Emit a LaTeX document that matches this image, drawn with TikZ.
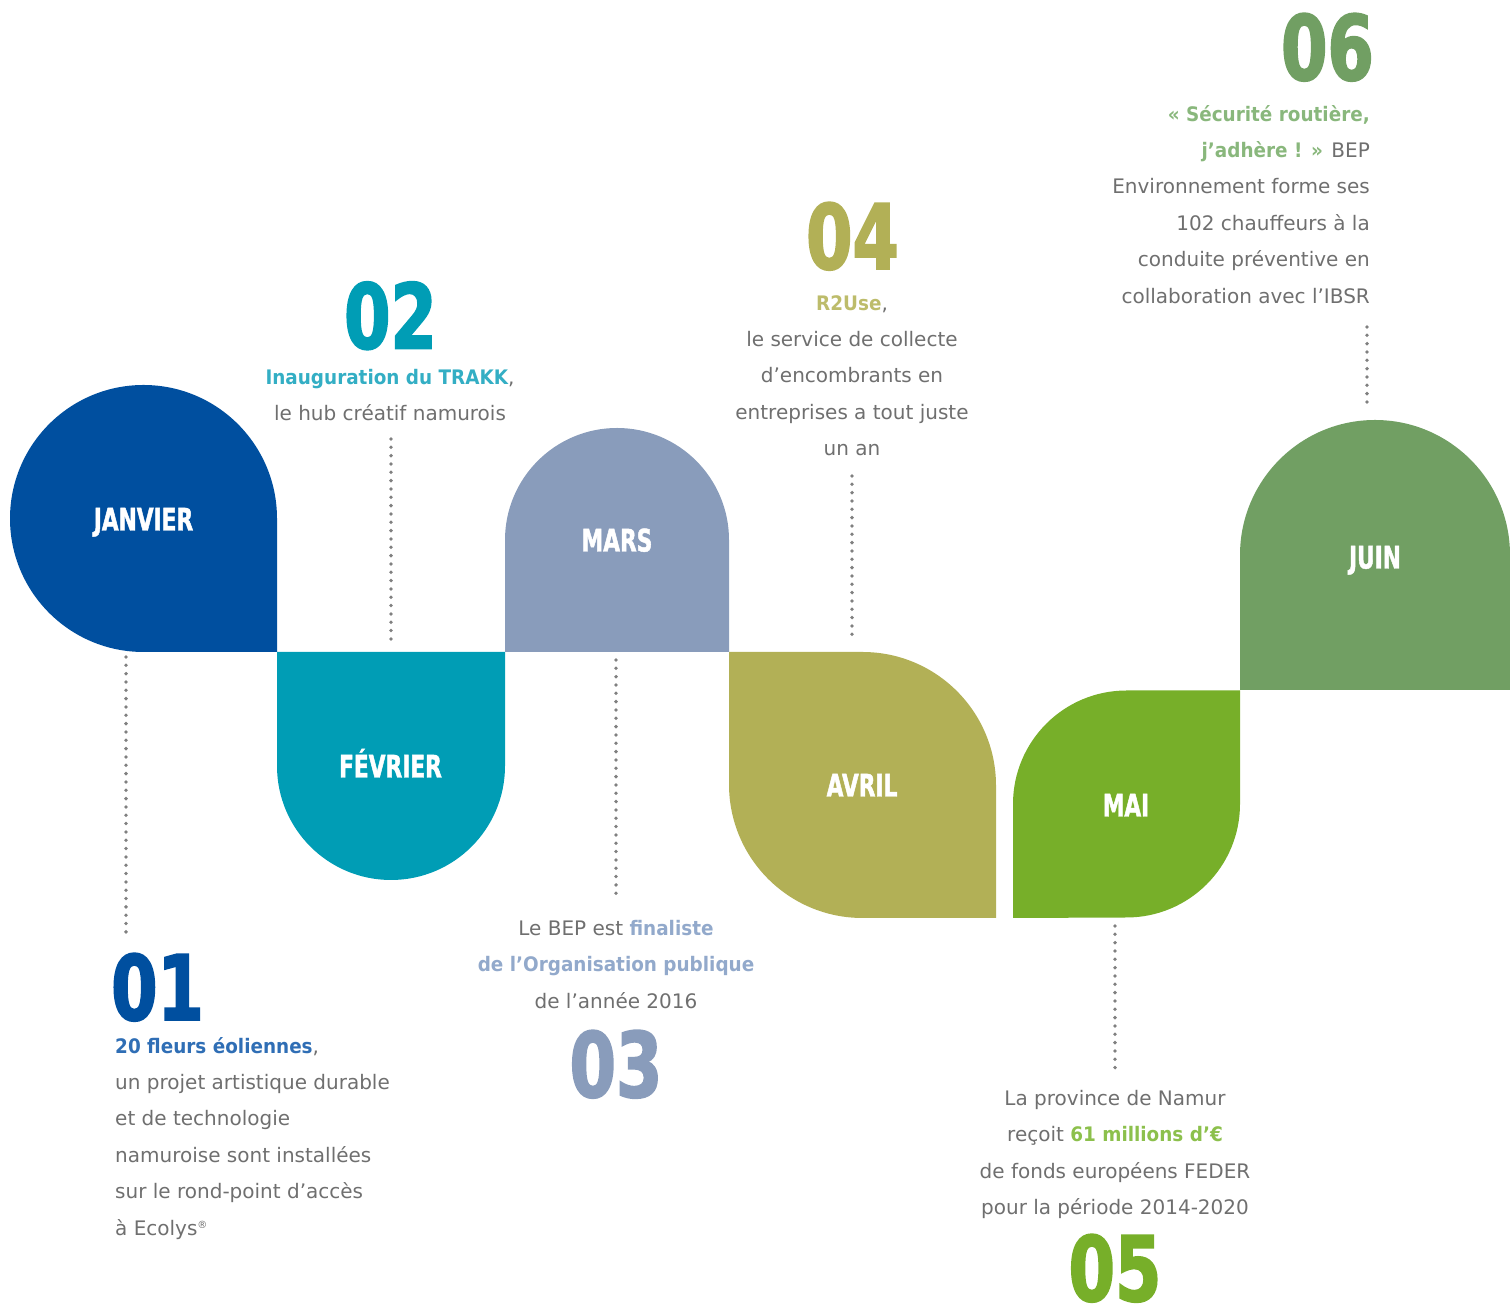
\documentclass[tikz,border=0pt]{standalone}
\usepackage{fontspec}
\setmainfont{DejaVu Sans}[BoldFeatures={FakeStretch=0.92}]
\newfontfamily\numfont{DejaVu Sans}[FakeStretch=0.74,BoldFeatures={FakeBold=2}]
\newfontfamily\monthfont{DejaVu Sans}[FakeStretch=0.7,BoldFeatures={FakeBold=1.5}]
\definecolor{cjan}{HTML}{004F9F}
\definecolor{cfev}{HTML}{009DB5}
\definecolor{cmar}{HTML}{899CBB}
\definecolor{cavr}{HTML}{B2B056}
\definecolor{cmai}{HTML}{77AF29}
\definecolor{cjuin}{HTML}{719F63}
\definecolor{txt}{HTML}{6F6F6F}
\definecolor{dotc}{HTML}{808080}
\definecolor{h1}{HTML}{2F6EB5}
\definecolor{h2}{HTML}{33AEC4}
\definecolor{h3}{HTML}{92A9CB}
\definecolor{h4}{HTML}{BDBC6B}
\definecolor{h5}{HTML}{8CC04C}
\definecolor{h6}{HTML}{89B77C}
\begin{document}
\begin{tikzpicture}[x=1pt,y=1pt,
  body/.style={inner sep=0pt, font=\fontsize{20}{36.4}\selectfont, text=txt},
  num/.style={inner sep=0pt, anchor=base, font=\numfont\bfseries\fontsize{90}{90}\selectfont},
  month/.style={inner sep=0pt, anchor=base, text=white, font=\monthfont\bfseries\fontsize{31}{31}\selectfont},
  dotline/.style={draw=dotc, line width=3.8pt, line cap=round, dash pattern=on 0pt off 8.33pt}]
\useasboundingbox (0,0) rectangle (1510,1306);
% shapes
\fill[cjan] (277,654) -- (143.5,654) arc[start angle=270,end angle=0,radius=133.5] -- cycle;
\fill[cfev] (277,654) -- (505,654) -- (505,540) arc[start angle=0,end angle=-180,radius=114] -- cycle;
\fill[cmar] (505,654) -- (729,654) -- (729,766) arc[start angle=0,end angle=180,radius=112] -- cycle;
\fill[cavr] (729,654) -- (862.5,654) arc[start angle=90,end angle=0,radius=133.5] -- (996,388) -- (862.5,388) arc[start angle=270,end angle=180,radius=133.5] -- cycle;
\fill[cmai] (1013,388) -- (1013,502) arc[start angle=180,end angle=90,radius=113.5] -- (1240,615.5) -- (1240,502) arc[start angle=0,end angle=-90,radius=113.5] -- cycle;
\fill[cjuin] (1240,616) -- (1510,616) -- (1510,751) arc[start angle=0,end angle=180,radius=135] -- cycle;
% month labels
\node[month] (mjan) at (143.5,775.5) {JANVIER};
\node[month] (mfev) at (390.5,528.5) {FÉVRIER};
\node[month] (mmar) at (617,754.5) {MARS};
\node[month] (mavr) at (862,509.5) {AVRIL};
\node[month] (mmai) at (1126,489.5) {MAI};
\node[month] (mjuin) at (1375,737.5) {JUIN};
% numbers
\node[num,text=cjan,anchor=base west] (n1) at (111,286) {01};
\node[num,text=cfev] (n2) at (390.5,957.5) {02};
\node[num,text=cmar] (n3) at (616,209) {03};
\node[num,text=cavr] (n4) at (852.5,1037) {04};
\node[num,text=cmai] (n5) at (1115,5) {05};
\node[num,text=cjuin,anchor=base east] (n6) at (1374,1226) {06};
% texts
\node[body,align=left,anchor=north west] (t1) at (115,269) {\rule{0pt}{15pt}{\bfseries\color{h1}20 fleurs éoliennes},\\ un projet artistique durable\\ et de technologie\\ namuroise sont installées\\ sur le rond-point d’accès\\ à Ecolys\raisebox{7pt}{\fontsize{10}{10}\selectfont ®}};
\node[body,align=center,anchor=north] (t2) at (390,937) {\rule{0pt}{15pt}{\bfseries\color{h2}Inauguration du TRAKK},\\ le hub créatif namurois};
\node[body,align=center,anchor=north] (t3) at (616,386) {\rule{0pt}{15pt}Le BEP est {\bfseries\color{h3}finaliste}\\ {\bfseries\color{h3}de l’Organisation publique}\\ de l’année 2016};
\node[body,align=center,anchor=north] (t4) at (852,1011) {\rule{0pt}{15pt}{\bfseries\color{h4}R2Use},\\ le service de collecte\\ d’encombrants en\\ entreprises a tout juste\\ un an};
\node[body,align=center,anchor=north] (t5) at (1115,216) {\rule{0pt}{15pt}La province de Namur\\ reçoit {\bfseries\color{h5}61 millions d’€}\\ de fonds européens FEDER\\ pour la période 2014-2020};
\node[body,align=right,anchor=north east] (t6) at (1370,1201) {\rule{0pt}{15pt}{\bfseries\color{h6}« Sécurité routière,}\\ {\bfseries\color{h6}j’adhère ! »} BEP\\ Environnement forme ses\\ 102 chauffeurs à la\\ conduite préventive en\\ collaboration avec l’IBSR};
% dotted connectors
\coordinate (d1a) at (126,649); \coordinate (d1b) at (126,368);
\coordinate (d2a) at (391,867); \coordinate (d2b) at (391,665);
\coordinate (d3a) at (616,646); \coordinate (d3b) at (616,411);
\coordinate (d4a) at (852,830); \coordinate (d4b) at (852,666);
\coordinate (d5a) at (1115,380); \coordinate (d5b) at (1115,233);
\coordinate (d6a) at (1367,979); \coordinate (d6b) at (1367,896);
\draw[dotline] (d1a) -- (d1b);
\draw[dotline] (d2a) -- (d2b);
\draw[dotline] (d3a) -- (d3b);
\draw[dotline] (d4a) -- (d4b);
\draw[dotline] (d5a) -- (d5b);
\draw[dotline] (d6a) -- (d6b);
\end{tikzpicture}
\end{document}
